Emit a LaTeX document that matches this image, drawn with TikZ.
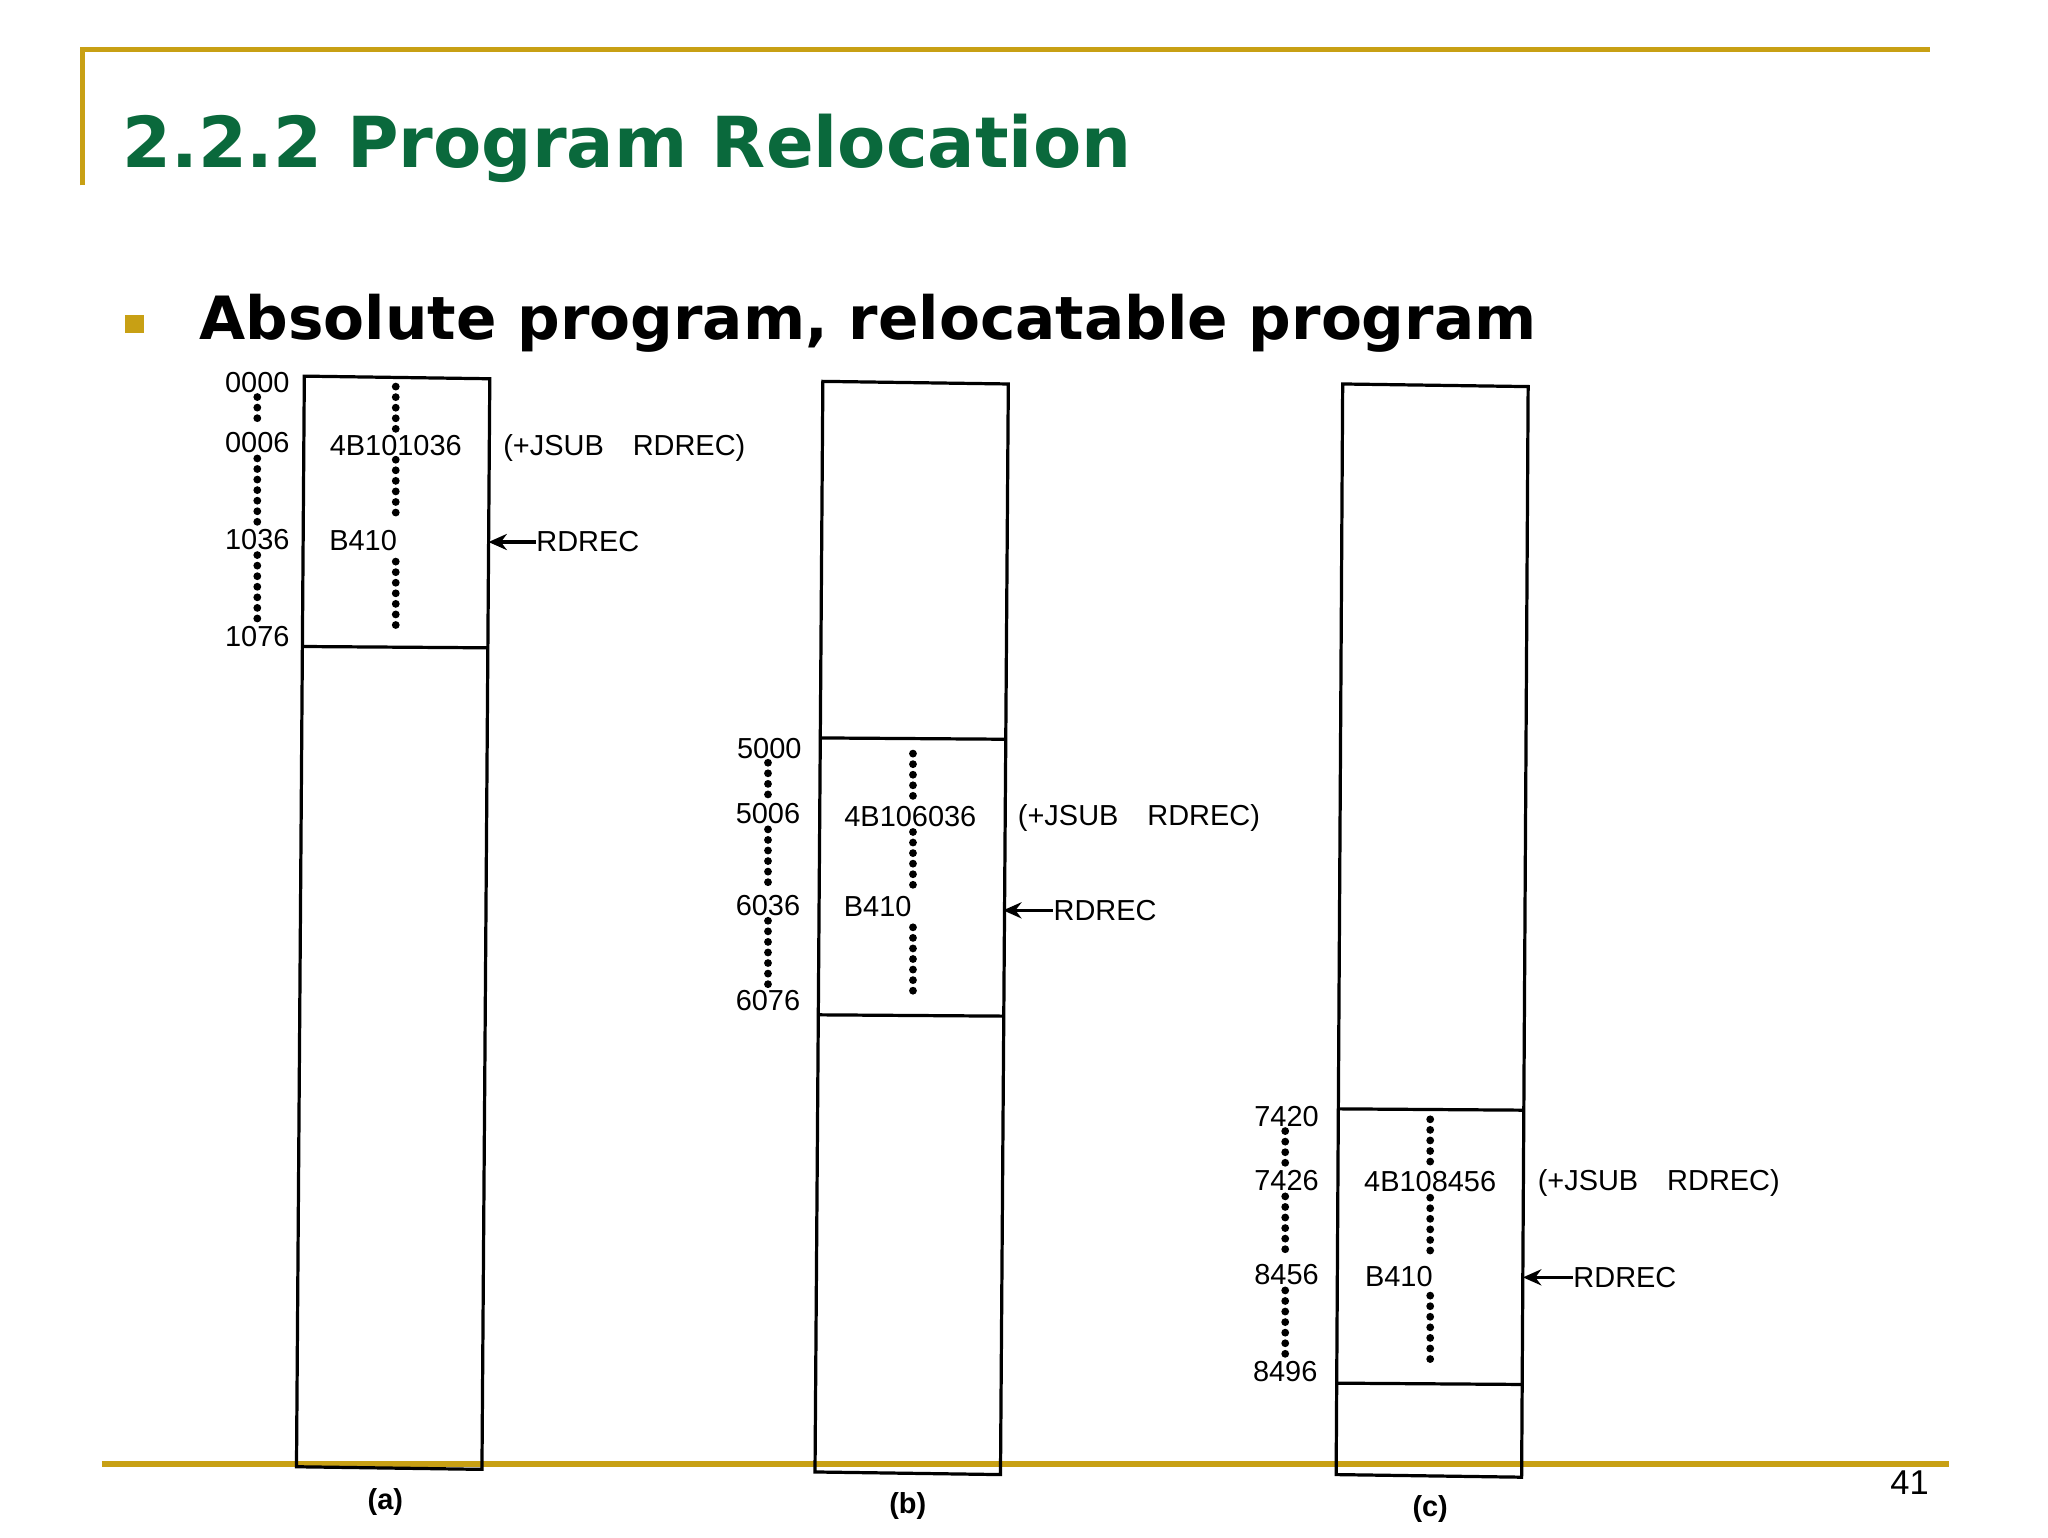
\documentclass[tikz,border=0pt]{standalone}
\usepackage{fontspec}
\usepackage{graphicx}
\setmainfont{Liberation Sans}
\newfontfamily\titlefont{DejaVu Sans}
\definecolor{gold}{RGB}{200,160,20}
\definecolor{tgreen}{RGB}{10,105,60}
\usetikzlibrary{arrows.meta}
\tikzset{
  lbl/.style={inner sep=0pt,font=\fontsize{6.3pt}{7pt}\selectfont},
  dotcol/.style={line width=1.7pt,line cap=round,dash pattern=on 0pt off 2.3pt},
  mem/.style={line width=0.7pt},
  arr/.style={-{Stealth[length=4pt,width=3.5pt]},line width=0.8pt}
}
\begin{document}
\begin{tikzpicture}[x=0.01cm,y=-0.01cm]
\useasboundingbox (0,0) rectangle (1568,1177);
\fill[white] (0,0) rectangle (1568,1177);
% frame lines
\draw[gold,line width=1.2pt] (63,142) -- (63,38) -- (1478,38);
\draw[gold,line width=1.2pt] (78,1121) -- (1492,1121);
\node[anchor=base west,inner sep=0pt,text=tgreen] (title) at (93,128) {\resizebox{7.72cm}{!}{\titlefont\bfseries 2.2.2 Program Relocation}};
\fill[gold] (96,241) rectangle (110,255);
\node[anchor=base west,inner sep=0pt] (sub) at (152,260) {\resizebox{10.23cm}{!}{\titlefont\bfseries Absolute program, relocatable program}};
\node[anchor=base,inner sep=0pt,font=\fontsize{7.5pt}{8pt}\selectfont] (pg) at (1462,1144) {41};

% panel (a)
\draw[mem] (233,288) -- (375,290) -- (369,1125) -- (227,1123) -- cycle;
\draw[mem] (232,495) -- (373,496);
\node[lbl] (a0) at (197,293) {0000};
\node[lbl] (a1) at (197,339) {0006};
\node[lbl] (a2) at (197,413) {1036};
\node[lbl] (a3) at (197,487) {1076};
\draw[dotcol] (197,304) -- (197,328);
\draw[dotcol] (197,351) -- (197,402);
\draw[dotcol] (197,425) -- (197,476);
\node[lbl] (ai1) at (303,341) {4B101036};
\node[lbl] (ai2) at (278,414) {B410};
\draw[dotcol] (303,296) -- (303,330);
\draw[dotcol] (303,352) -- (303,400);
\draw[dotcol] (303,430) -- (303,483);
\node[lbl] (aj) at (478,343) {(+JSUB\quad RDREC)};
\node[lbl,anchor=west] (ar) at (410,415) {RDREC};
\draw[arr] (ar.west) -- (374,415);
\node[lbl,font=\fontsize{6.3pt}{7pt}\selectfont\bfseries] (ca) at (295,1150) {(a)};

% panel (b)
\draw[mem] (630,292) -- (772,294) -- (766,1129) -- (624,1127) -- cycle;
\draw[mem] (628,565) -- (770,566);
\draw[mem] (627,777) -- (769,778);
\node[lbl] (b0) at (589,573) {5000};
\node[lbl] (b1) at (588,623) {5006};
\node[lbl] (b2) at (588,693) {6036};
\node[lbl] (b3) at (588,766) {6076};
\draw[dotcol] (588,584) -- (588,611);
\draw[dotcol] (588,635) -- (588,682);
\draw[dotcol] (588,705) -- (588,755);
\node[lbl] (bi1) at (697,625) {4B106036};
\node[lbl] (bi2) at (672,694) {B410};
\draw[dotcol] (699,577) -- (699,613);
\draw[dotcol] (699,637) -- (699,680);
\draw[dotcol] (699,710) -- (699,763);
\node[lbl] (bj) at (872,626) {(+JSUB\quad RDREC)};
\node[lbl,anchor=west] (br) at (806,697) {RDREC};
\draw[arr] (br.west) -- (768,697);
\node[lbl,font=\fontsize{6.3pt}{7pt}\selectfont\bfseries] (cb) at (695,1153) {(b)};

% panel (c)
\draw[mem] (1028,294) -- (1170,296) -- (1165,1131) -- (1023,1129) -- cycle;
\draw[mem] (1026,849) -- (1167,850);
\draw[mem] (1024,1059) -- (1165,1060);
\node[lbl] (c0) at (985,855) {7420};
\node[lbl] (c1) at (985,904) {7426};
\node[lbl] (c2) at (985,976) {8456};
\node[lbl] (c3) at (984,1050) {8496};
\draw[dotcol] (984,866) -- (984,892);
\draw[dotcol] (984,916) -- (984,964);
\draw[dotcol] (984,988) -- (984,1038);
\node[lbl] (ci1) at (1095,905) {4B108456};
\node[lbl] (ci2) at (1071,977) {B410};
\draw[dotcol] (1095,857) -- (1095,893);
\draw[dotcol] (1095,917) -- (1095,962);
\draw[dotcol] (1095,992) -- (1095,1045);
\node[lbl] (cj) at (1270,906) {(+JSUB\quad RDREC)};
\node[lbl,anchor=west] (cr) at (1204,978) {RDREC};
\draw[arr] (cr.west) -- (1166,978);
\node[lbl,font=\fontsize{6.3pt}{7pt}\selectfont\bfseries] (cc) at (1095,1155) {(c)};
\end{tikzpicture}
\end{document}
